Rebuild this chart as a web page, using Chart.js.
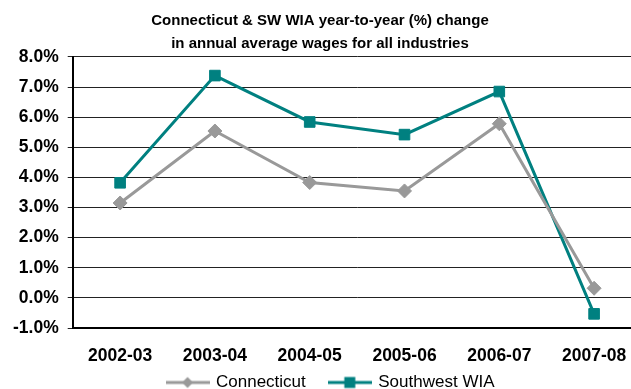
<!DOCTYPE html>
<html>
<head>
<meta charset="utf-8">
<script src="https://cdn.jsdelivr.net/npm/chart.js@4"></script>
<style>
  html, body { margin: 0; padding: 0; background: #fff; overflow: hidden; }
  #clip { width: 631px; height: 389px; overflow: hidden; }
  #wrap { width: 650px; height: 389px; position: relative; }
</style>
</head>
<body>
<div id="clip"><div id="wrap"><canvas id="wageChart"></canvas></div></div>
<script>
const years = ['2002-03', '2003-04', '2004-05', '2005-06', '2006-07', '2007-08'];
const connecticut = [3.15, 5.54, 3.83, 3.55, 5.78, 0.32];
const southwestWIA = [3.82, 7.38, 5.84, 5.42, 6.85, -0.53];
const titleLines = ['Connecticut & SW WIA year-to-year (%) change', 'in annual average wages for all industries'];

const grey = '#999999';
const teal = '#008080';
const fontName = '"Liberation Sans", Arial, sans-serif';

// legend swatch: short line with the marker in the middle
function swatch(color, style) {
    const c = document.createElement('canvas');
    c.width = 44; c.height = 14;
    const g = c.getContext('2d');
    g.strokeStyle = color; g.fillStyle = color; g.lineWidth = 3;
    g.beginPath(); g.moveTo(0, 7); g.lineTo(44, 7); g.stroke();
    g.beginPath();
    if (style === 'diamond') {
        g.moveTo(22, 1.5); g.lineTo(27.5, 7); g.lineTo(22, 12.5); g.lineTo(16.5, 7);
    } else {
        g.rect(16.5, 1.5, 11, 11);
    }
    g.fill();
    return c;
}
const swatches = [swatch(grey, 'diamond'), swatch(teal, 'square')];

// the visible page is narrower than the canvas: re-centre title and legend on it,
// and pull the legend row up under the axis labels
const nudge = {
    id: 'nudge',
    afterLayout: function(chart) {
        chart.titleBlock.left -= 7; chart.titleBlock.right -= 7;
        chart.legend.left += 4; chart.legend.right += 4;
        chart.legend.top -= 20; chart.legend.bottom -= 20;
    }
};

const ctx = document.getElementById('wageChart').getContext('2d');
new Chart(ctx, {
    type: 'line',
    data: {
        labels: years,
        datasets: [{
            label: 'Connecticut',
            data: connecticut,
            borderColor: grey,
            backgroundColor: grey,
            borderWidth: 3,
            pointStyle: 'rectRot',
            pointRadius: 7,
            pointBorderWidth: 1,
            tension: 0
        }, {
            label: 'Southwest WIA',
            data: southwestWIA,
            borderColor: teal,
            backgroundColor: teal,
            borderWidth: 3,
            pointStyle: 'rect',
            pointRadius: 7.5,
            pointBorderWidth: 1,
            tension: 0
        }]
    },
    plugins: [nudge],
    options: {
        responsive: true,
        maintainAspectRatio: false,
        animation: false,
        layout: { padding: { left: 4, right: 0, top: 9, bottom: -32 } },
        plugins: {
            title: {
                display: true,
                text: titleLines,
                color: '#000',
                font: { family: fontName, size: 15, weight: 'bold', lineHeight: 1.53 },
                padding: { top: 0, bottom: 2 }
            },
            legend: {
                position: 'bottom',
                labels: {
                    usePointStyle: true,
                    pointStyleWidth: 40,
                    color: '#000',
                    font: { family: fontName, size: 17 },
                    padding: 24,
                    generateLabels: function(chart) {
                        return chart.data.datasets.map(function(ds, i) {
                            return {
                                text: ds.label,
                                pointStyle: swatches[i],
                                fillStyle: ds.borderColor,
                                strokeStyle: ds.borderColor,
                                lineWidth: 0,
                                datasetIndex: i,
                                fontColor: '#000'
                            };
                        });
                    }
                }
            },
            tooltip: { enabled: false }
        },
        scales: {
            x: {
                offset: true,
                grid: { display: false, drawTicks: false },
                border: { color: '#000', width: 2 },
                ticks: {
                    color: '#000',
                    font: { family: fontName, size: 17.5, weight: 'bold' },
                    padding: 18
                },
                afterFit: function(scale) { scale.height -= 15; }
            },
            y: {
                min: -1,
                max: 8,
                grid: { color: '#222', lineWidth: 1, tickLength: 5 },
                border: { color: '#000', width: 2 },
                ticks: {
                    stepSize: 1,
                    color: '#000',
                    font: { family: fontName, size: 17.5, weight: 'bold' },
                    padding: 9,
                    callback: function(v) { return v.toFixed(1) + '%'; }
                }
            }
        }
    }
});
</script>
</body>
</html>
